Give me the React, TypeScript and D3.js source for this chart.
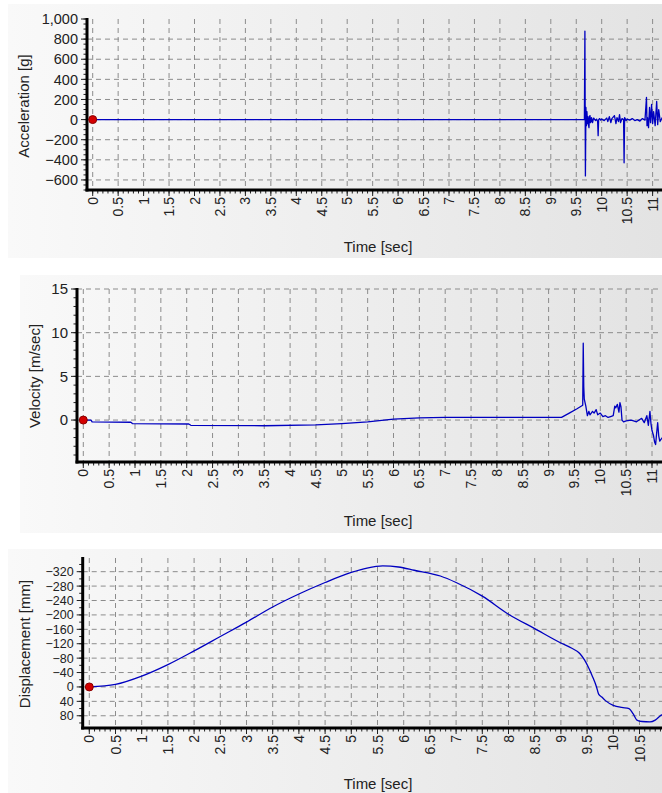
import React, { useEffect, useRef } from 'react';
import * as d3 from 'd3';

const svgWidth = 662;
const svgHeight = 793;
const font = '"Liberation Sans", Arial, sans-serif';

// time ticks shared by the three charts
const timeTicks = [0, 0.5, 1, 1.5, 2, 2.5, 3, 3.5, 4, 4.5, 5, 5.5, 6, 6.5, 7, 7.5, 8, 8.5, 9, 9.5, 10, 10.5, 11, 11.5];

const accTicks = [-600, -400, -200, 0, 200, 400, 600, 800, 1000];
const velTicks = [0, 5, 10, 15];
const dispTicks = [-320, -280, -240, -200, -160, -120, -80, -40, 0, 40, 80];

// [time, g]
const acceleration: [number, number][] = [
  [0, 0], [9.66, 0], [9.67, 880], [9.68, -560], [9.69, 120], [9.7, -60], [9.71, 80], [9.72, -40],
  [9.73, 30], [9.74, -50], [9.75, -80], [9.76, 30], [9.77, 40], [9.78, -30], [9.79, -20], [9.8, 20],
  [9.82, -30], [9.84, 15], [9.85, 10], [9.88, -10], [9.9, 5], [9.92, -20], [9.93, -160], [9.94, 0],
  [9.96, 10], [9.98, -5], [10.0, 5], [10.05, -10], [10.1, 15], [10.12, -20], [10.15, 30], [10.18, -30],
  [10.2, 10], [10.25, 40], [10.28, -40], [10.3, 20], [10.33, -20], [10.35, 50], [10.37, -30], [10.4, 10],
  [10.43, 0], [10.44, -430], [10.45, 20], [10.48, -10], [10.5, 5], [10.55, -5], [10.6, 10], [10.65, -10],
  [10.7, 0], [10.75, -15], [10.8, 10], [10.85, -5], [10.88, 220], [10.89, -60], [10.9, 20], [10.92, -80],
  [10.94, 120], [10.96, -30], [10.98, 150], [11.0, -40], [11.02, 80], [11.05, -60], [11.08, 180],
  [11.1, -50], [11.12, 100], [11.15, -20], [11.2, 30], [11.3, -10],
];

// [time, m/sec]
const velocity: [number, number][] = [
  [0, 0], [0.15, 0], [0.17, -0.2], [0.92, -0.25], [0.95, -0.4], [2.04, -0.45], [2.08, -0.6],
  [3.5, -0.65], [4.5, -0.55], [5, -0.4], [5.5, -0.2], [6, 0.1], [6.5, 0.25], [7, 0.3], [9.25, 0.3],
  [9.4, 0.8], [9.55, 1.3], [9.66, 1.7], [9.67, 8.8], [9.68, 3.8], [9.69, 2.4], [9.72, 1.6], [9.75, 0.5],
  [9.78, 1.0], [9.8, 0.6], [9.85, 1.0], [9.88, 0.8], [9.92, 1.2], [9.95, 0.6], [10.0, 0.8], [10.05, 0.4],
  [10.1, 0.5], [10.15, 0.3], [10.2, 0.4], [10.25, 0.5], [10.28, 1.6], [10.3, 1.4], [10.33, 1.8],
  [10.36, 0.9], [10.38, 2.0], [10.4, 1.5], [10.42, 0.0], [10.45, -0.2], [10.5, -0.1], [10.6, 0.0],
  [10.7, -0.2], [10.8, 0.2], [10.85, -0.3], [10.9, 0.5], [10.93, -0.6], [10.96, 1.0], [10.98, -0.4],
  [11.0, -1.2], [11.03, -1.8], [11.05, -2.5], [11.07, -2.8], [11.09, -1.5], [11.11, -0.3], [11.13, -1.8],
  [11.15, -2.4], [11.2, -2.0],
];

// [time, mm]
const displacement: [number, number][] = [
  [0, 0], [0.5, -7], [1, -30], [1.5, -62], [2, -100], [2.5, -140], [3, -180], [3.5, -222], [4, -258],
  [4.5, -290], [5, -318], [5.3, -330], [5.6, -336], [5.9, -333], [6.2, -324], [6.7, -308], [7, -290],
  [7.5, -252], [8, -202], [8.5, -162], [9, -122], [9.2, -108], [9.36, -93], [9.45, -75], [9.52, -56],
  [9.6, -30], [9.68, 0], [9.72, 20], [9.78, 28], [9.85, 38], [10.0, 51], [10.16, 57], [10.3, 60],
  [10.38, 75], [10.45, 92], [10.55, 96], [10.7, 97], [10.8, 92], [10.9, 80], [11.0, 72], [11.2, 70],
];

const panels = [
  {
    id: 'acc', data: acceleration, ticks: accTicks, title: 'Acceleration [g]', fmt: d3.format(','),
    box: [8, 4, 662, 258], axisX: 87, x0: 92.7, perSec: 50.9, yTop: 19, yBottom: 190,
    yDomain: [-700, 1000], minor: 50, titleX: 24, titleY: 106, timeY: 252, labelSize: 14.5,
    curve: d3.curveLinear,
  },
  {
    id: 'vel', data: velocity, ticks: velTicks, title: 'Velocity [m/sec]', fmt: d3.format('d'),
    box: [20, 275, 662, 533], axisX: 77, x0: 83.3, perSec: 51.7, yTop: 289, yBottom: 462,
    yDomain: [-4.8, 15], minor: 1, titleX: 35, titleY: 376, timeY: 526, labelSize: 15,
    curve: d3.curveLinear,
  },
  {
    id: 'disp', data: displacement, ticks: dispTicks, title: 'Displacement [mm]', fmt: d3.format('d'),
    box: [8, 549, 662, 793], axisX: 82.7, x0: 89.3, perSec: 52.4, yTop: 558, yBottom: 728,
    yDomain: [-358, 114], minor: 20, titleX: 25, titleY: 644, timeY: 789, labelSize: 12.5,
    curve: d3.curveMonotoneX,
  },
];

const App = () => {
  const ref = useRef<SVGSVGElement | null>(null);

  useEffect(() => {
    const svg = d3.select(ref.current);
    svg.selectAll('*').remove();

    const defs = svg.append('defs');
    const grad = defs.append('linearGradient').attr('id', 'bg').attr('x1', 0).attr('x2', 1).attr('y1', 0).attr('y2', 0);
    grad.append('stop').attr('offset', '0%').attr('stop-color', '#f9f9f9');
    grad.append('stop').attr('offset', '100%').attr('stop-color', '#e3e3e3');

    panels.forEach(p => {
      const [bx0, by0, bx1, by1] = p.box;
      svg.append('rect').attr('x', bx0).attr('y', by0).attr('width', bx1 - bx0).attr('height', by1 - by0)
        .attr('fill', 'url(#bg)');

      const x = d3.scaleLinear().domain([0, 11]).range([p.x0, p.x0 + 11 * p.perSec]);
      // displacement axis is drawn with negative values at the top
      const y = p.id === 'disp'
        ? d3.scaleLinear().domain(p.yDomain).range([p.yTop, p.yBottom])
        : d3.scaleLinear().domain(p.yDomain).range([p.yBottom, p.yTop]);

      const g = svg.append('g');
      defs.append('clipPath').attr('id', 'clip-' + p.id).append('rect')
        .attr('x', p.axisX).attr('y', p.yTop - 2).attr('width', svgWidth - p.axisX).attr('height', p.yBottom - p.yTop + 2);

      // grid
      const vis = timeTicks.filter(t => x(t) < svgWidth);
      g.selectAll('.vgrid').data(vis).enter().append('line')
        .attr('x1', d => x(d)).attr('x2', d => x(d)).attr('y1', p.yTop).attr('y2', p.yBottom)
        .attr('stroke', '#8c8c8c').attr('stroke-dasharray', '5,4');
      g.selectAll('.hgrid').data(p.ticks.filter(t => t !== 1000)).enter().append('line')
        .attr('x1', p.axisX).attr('x2', svgWidth).attr('y1', d => y(d)).attr('y2', d => y(d))
        .attr('stroke', '#8c8c8c').attr('stroke-dasharray', '5,4');

      // series
      const line = d3.line<[number, number]>().x(d => x(d[0])).y(d => y(d[1])).curve(p.curve);
      g.append('path').datum(p.data).attr('d', line).attr('fill', 'none')
        .attr('stroke', '#0000c0').attr('stroke-width', 1.3).attr('stroke-linejoin', 'round')
        .attr('clip-path', `url(#clip-${p.id})`);

      // minor + major ticks
      const xMinor = d3.range(0, 121).map(i => i / 10).filter(t => x(t) < svgWidth);
      g.selectAll('.xminor').data(xMinor).enter().append('line')
        .attr('x1', d => x(d)).attr('x2', d => x(d)).attr('y1', p.yBottom).attr('y2', p.yBottom + 3.5)
        .attr('stroke', '#222');
      g.selectAll('.xmajor').data(vis).enter().append('line')
        .attr('x1', d => x(d)).attr('x2', d => x(d)).attr('y1', p.yBottom).attr('y2', p.yBottom + 6)
        .attr('stroke', '#222');
      const [ya, yb] = d3.extent(p.yDomain) as [number, number];
      const yMinor = d3.range(Math.ceil(ya / p.minor), Math.floor(yb / p.minor) + 1).map(i => i * p.minor);
      g.selectAll('.yminor').data(yMinor).enter().append('line')
        .attr('x1', p.axisX - 3.5).attr('x2', p.axisX).attr('y1', d => y(d)).attr('y2', d => y(d))
        .attr('stroke', '#222');
      g.selectAll('.ymajor').data(p.ticks).enter().append('line')
        .attr('x1', p.axisX - 6).attr('x2', p.axisX).attr('y1', d => y(d)).attr('y2', d => y(d))
        .attr('stroke', '#222');

      // axis lines
      g.append('line').attr('x1', p.axisX).attr('x2', p.axisX).attr('y1', p.yTop - 1).attr('y2', p.yBottom + 1.5)
        .attr('stroke', '#000').attr('stroke-width', 3);
      g.append('line').attr('x1', p.axisX - 1.5).attr('x2', svgWidth).attr('y1', p.yBottom).attr('y2', p.yBottom)
        .attr('stroke', '#000').attr('stroke-width', 3);

      // labels
      g.selectAll('.ylab').data(p.ticks).enter().append('text')
        .attr('x', p.axisX - 9).attr('y', d => y(d)).attr('dy', '0.36em')
        .attr('text-anchor', 'end').attr('font-size', p.labelSize).attr('font-family', font).attr('fill', '#222')
        .text(d => p.fmt(d));
      g.selectAll('.xlab').data(vis).enter().append('text')
        .attr('transform', d => `translate(${x(d)},${p.yBottom + 7}) rotate(-90)`)
        .attr('dy', '0.36em').attr('text-anchor', 'end')
        .attr('font-size', 14).attr('font-family', font).attr('fill', '#222')
        .text(d => String(d));
      g.append('text').attr('transform', `translate(${p.titleX},${p.titleY}) rotate(-90)`)
        .attr('dy', '0.36em').attr('text-anchor', 'middle')
        .attr('font-size', 15).attr('font-family', font).attr('fill', '#222').text(p.title);
      g.append('text').attr('x', 378).attr('y', p.timeY).attr('text-anchor', 'middle')
        .attr('font-size', 15).attr('font-family', font).attr('fill', '#222').text('Time [sec]');

      // start marker
      g.append('circle').attr('cx', x(0)).attr('cy', y(0)).attr('r', 4)
        .attr('fill', '#d40000').attr('stroke', '#8a0000').attr('stroke-width', 1);
    });
  }, []);

  return (
    <div style={{ position: 'absolute', left: 0, top: 0, background: '#fff' }}>
      <svg ref={ref} width={svgWidth} height={svgHeight} style={{ display: 'block' }} />
    </div>
  );
};

export default App;
